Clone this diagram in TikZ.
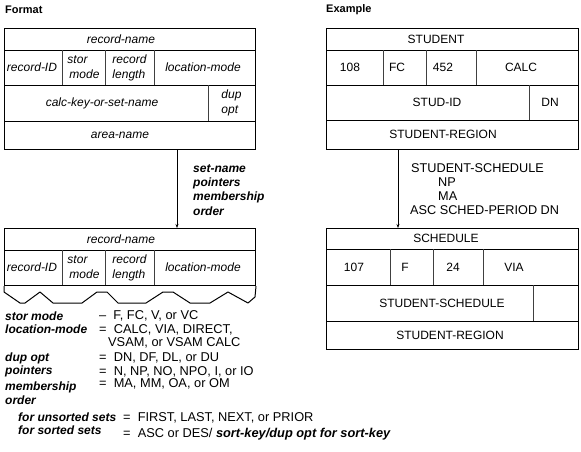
\documentclass[tikz,border=0pt]{standalone}
\usepackage{fontspec}
\setmainfont{Liberation Sans}
\usetikzlibrary{arrows.meta}
\begin{document}
\begin{tikzpicture}[x=1pt,y=-1pt,
  txt/.style={font=\fontsize{12}{14}\selectfont, inner sep=0pt, align=center},
  itx/.style={font=\fontsize{12}{15}\selectfont\itshape, inner sep=0pt, align=center},
  itl/.style={font=\fontsize{12}{15}\selectfont\itshape, inner sep=0pt, align=left},
  lbl/.style={font=\fontsize{12}{14}\selectfont\bfseries\itshape, inner sep=0pt, anchor=west},
  val/.style={font=\fontsize{12.8}{14}\selectfont, inner sep=0pt, anchor=west},
  exl/.style={font=\fontsize{12.7}{14}\selectfont, inner sep=0pt, anchor=west},
  head/.style={font=\fontsize{11}{13}\selectfont\bfseries, inner sep=0pt, anchor=west},
  frame/.style={draw, line width=1pt, inner sep=0pt, anchor=north west},
  div/.style={line width=0.9pt},
  vdiv/.style={line width=0.9pt, draw=black!75},
  conn/.style={line width=0.8pt, -{Stealth[length=4pt,width=3pt]}}]
\useasboundingbox (0,0) rectangle (581,451);

% headings
\node[head] (hfmt) at (5,10) {Format};
\node[head] (hex) at (326,10) {Example};

% ===== Format: owner record =====
\node[frame, minimum width=251pt, minimum height=121pt] (fmtA) at (4,28) {};
\draw[div] (4,50) -- (255,50);
\draw[div] (4,85) -- (255,85);
\draw[div] (4,121) -- (255,121);
\draw[vdiv] (62,50) -- (62,85);
\draw[vdiv] (105,50) -- (105,85);
\draw[vdiv] (154,50) -- (154,85);
\draw[vdiv] (208,85) -- (208,121);
\node[itx] (a1) at (121,39) {record-name};
\node[itx] (a2) at (32,67.5) {record-ID};
\node[itl] (a3) at (83.5,67.5) {stor\\\,mode};
\node[itl] (a4) at (129.5,67.5) {record\\length};
\node[itx] (a5) at (203,67.5) {location-mode};
\node[itx] (a6) at (102,103) {calc-key-or-set-name};
\node[itl] (a7) at (231.5,103) {dup\\opt};
\node[itx] (a8) at (120,135) {area-name};

% ===== Format: member record =====
\node[frame, minimum width=251pt, minimum height=57pt] (fmtB) at (4,228) {};
\draw[div] (4,250) -- (255,250);
\draw[vdiv] (62,250) -- (62,285);
\draw[vdiv] (105,250) -- (105,285);
\draw[vdiv] (154,250) -- (154,285);
\draw[line width=1pt, line join=round] (fmtB.south west) -- (4,292) -- (20,303) -- (25,303) -- (40,292)
  -- (53,303) -- (82,303) -- (97,292) -- (107,292) -- (118,303) -- (146,303)
  -- (163,292) -- (173,292) -- (190,303) -- (210,303) -- (228,292) -- (248,303)
  -- (255,297) -- (fmtB.south east);
\node[itx] (b1) at (121,239) {record-name};
\node[itx] (b2) at (32,267.5) {record-ID};
\node[itl] (b3) at (83.5,267.5) {stor\\\,mode};
\node[itl] (b4) at (129.5,267.5) {record\\length};
\node[itx] (b5) at (203,267.5) {location-mode};

% connector (format)
\coordinate (fx) at (177,0);
\draw[conn] (fmtA.south -| fx) -- (fmtB.north -| fx);
\node[lbl] (s1) at (193,169) {set-name};
\node[lbl] (s2) at (193,183) {pointers};
\node[lbl] (s3) at (193,197) {membership};
\node[lbl] (s4) at (193,211) {order};

% ===== legend =====
\node[lbl] (l1) at (5,316) {stor mode};
\node[val] (v1) at (99,316) {–\ \ F, FC, V, or VC};
\node[lbl] (l2) at (5,329.5) {location-mode};
\node[val] (v2) at (99,329.5) {=\ \ CALC, VIA, DIRECT,};
\node[val] (v2b) at (108,343) {VSAM, or VSAM CALC};
\node[lbl] (l3) at (5,358) {dup opt};
\node[val] (v3) at (99,358) {=\ \ DN, DF, DL, or DU};
\node[lbl] (l4) at (5,371.5) {pointers};
\node[val] (v4) at (99,371.5) {=\ \ N, NP, NO, NPO, I, or IO};
\node[lbl] (l5) at (5,387) {membership};
\node[val] (v5) at (99,384) {=\ \ MA, MM, OA, or OM};
\node[lbl] (l6) at (5,400) {order};
\node[lbl] (l7) at (18,417) {for unsorted sets};
\node[val] (v7) at (123,418) {=\ \ FIRST, LAST, NEXT, or PRIOR};
\node[lbl] (l8) at (18,430) {for sorted sets};
\node[val] (v8) at (123,434) {=\ \ ASC or DES/ \textbf{\textit{sort-key/dup opt for sort-key}}};

% ===== Example: owner record =====
\node[frame, minimum width=252pt, minimum height=121pt] (exA) at (326,28) {};
\draw[div] (326,50) -- (578,50);
\draw[div] (326,85) -- (578,85);
\draw[div] (326,120) -- (578,120);
\draw[vdiv] (383,50) -- (383,85);
\draw[vdiv] (426,50) -- (426,85);
\draw[vdiv] (476,50) -- (476,85);
\draw[vdiv] (529,85) -- (529,120);
\node[txt] (c1) at (436,39) {STUDENT};
\node[txt] (c2) at (350,67.5) {108};
\node[txt] (c3) at (397,67.5) {FC};
\node[txt] (c4) at (443,67.5) {452};
\node[txt] (c5) at (521,67.5) {CALC};
\node[txt] (c6) at (437,102.5) {STUD-ID};
\node[txt] (c7) at (550,102.5) {DN};
\node[txt] (c8) at (443,134.5) {STUDENT-REGION};

% ===== Example: member record =====
\node[frame, minimum width=252pt, minimum height=121pt] (exB) at (326,228) {};
\draw[div] (326,249) -- (578,249);
\draw[div] (326,285) -- (578,285);
\draw[div] (326,321) -- (578,321);
\draw[vdiv] (390,249) -- (390,285);
\draw[vdiv] (433,249) -- (433,285);
\draw[vdiv] (483,249) -- (483,285);
\draw[vdiv] (533,285) -- (533,321);
\node[txt] (d1) at (446,238.5) {SCHEDULE};
\node[txt] (d2) at (354,267) {107};
\node[txt] (d3) at (405,267) {F};
\node[txt] (d4) at (453,267) {24};
\node[txt] (d5) at (514,267) {VIA};
\node[txt] (d6) at (442,303) {STUDENT-SCHEDULE};
\node[txt] (d7) at (450,335) {STUDENT-REGION};

% connector (example)
\coordinate (ex) at (398,0);
\draw[conn] (exA.south -| ex) -- (exB.north -| ex);
\node[exl] (e1) at (411,168) {STUDENT-SCHEDULE};
\node[exl] (e2) at (438,182) {NP};
\node[exl] (e3) at (438,196) {MA};
\node[exl] (e4) at (410,210) {ASC SCHED-PERIOD DN};
\end{tikzpicture}
\end{document}
